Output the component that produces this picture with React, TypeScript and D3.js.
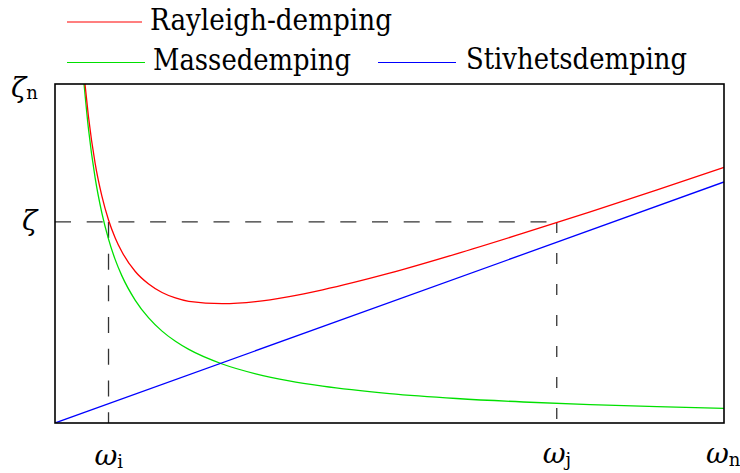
import React from "react";
import * as d3 from "d3";

// ω axis runs 0..10, ζ axis runs 0..1
const massOmega = [0.434, 0.5, 0.6, 0.7, 0.8, 0.9, 1.0, 1.2, 1.4, 1.6, 1.8, 2.0, 2.5, 3.0, 3.5, 4, 5, 6, 7, 8, 9, 10];
const massZeta = [1.0, 0.868, 0.723, 0.62, 0.5425, 0.482, 0.434, 0.362, 0.31, 0.271, 0.241, 0.217, 0.174, 0.145, 0.124, 0.1085, 0.0868, 0.0723, 0.062, 0.0543, 0.0482, 0.0434];

const rayOmega = [0.448, 0.5, 0.6, 0.7, 0.8, 0.9, 1.0, 1.2, 1.4, 1.6, 1.8, 2.0, 2.5, 3.0, 3.5, 4, 5, 6, 7, 8, 9, 10];
const rayZeta = [1.0, 0.904, 0.766, 0.67, 0.599, 0.546, 0.505, 0.447, 0.41, 0.385, 0.369, 0.359, 0.352, 0.358, 0.373, 0.393, 0.442, 0.499, 0.56, 0.623, 0.688, 0.754];

const stiffOmega = [0, 10];
const stiffZeta = [0, 0.711];

const zetaTarget = 0.593;
const omegaI = 0.8;
const omegaJ = 7.5;
const omegaMax = 10;

const legendLabels = ["Rayleigh-demping", "Massedemping", "Stivhetsdemping"];

export default function App() {
  const W = 740, H = 473;
  const x = d3.scaleLinear().domain([0, 10]).range([55, 724]);
  const y = d3.scaleLinear().domain([0, 1]).range([423, 84]);

  const line = d3
    .line<[number, number]>()
    .x((d) => x(d[0]))
    .y((d) => y(d[1]))
    .curve(d3.curveMonotoneX);

  const mass = massOmega.map((w, i) => [w, massZeta[i]] as [number, number]);
  const ray = rayOmega.map((w, i) => [w, rayZeta[i]] as [number, number]);
  const stiff = stiffOmega.map((w, i) => [w, stiffZeta[i]] as [number, number]);

  const font = '"DejaVu Serif", serif';
  const dash = "16 15.7";

  return (
    <svg width={W} height={H} style={{ position: "absolute", left: 0, top: 0 }}>
      <rect x={0} y={0} width={W} height={H} fill="#fff" />
      <defs>
        <clipPath id="plot">
          <rect x={x(0)} y={y(1)} width={x(10) - x(0)} height={y(0) - y(1)} />
        </clipPath>
      </defs>

      {/* dashed guides */}
      <line x1={x(0)} x2={x(omegaJ)} y1={y(zetaTarget)} y2={y(zetaTarget)} stroke="#333" strokeWidth={1.3} strokeDasharray={dash} />
      <line x1={x(omegaI)} x2={x(omegaI)} y1={y(zetaTarget)} y2={y(0)} stroke="#333" strokeWidth={1.3} strokeDasharray={dash} />
      <line x1={x(omegaJ)} x2={x(omegaJ)} y1={y(zetaTarget)} y2={y(0)} stroke="#333" strokeWidth={1.3} strokeDasharray="11 20" />

      <g clipPath="url(#plot)" fill="none" strokeWidth={1.3}>
        <path d={line(mass) || ""} stroke="#00e000" />
        <path d={line(stiff) || ""} stroke="#0000ff" />
        <path d={line(ray) || ""} stroke="#ff0000" />
      </g>

      <rect x={x(0)} y={y(1)} width={x(10) - x(0)} height={y(0) - y(1)} fill="none" stroke="#000" strokeWidth={1.6} />

      <g fontFamily={font} fill="#000">
        {/* legend */}
        <line x1={67} x2={142} y1={22} y2={22} stroke="#ff0000" strokeWidth={1.2} />
        <text x={150} y={30} fontSize={29} textLength={242} lengthAdjust="spacingAndGlyphs">{legendLabels[0]}</text>
        <line x1={67} x2={145} y1={62.5} y2={62.5} stroke="#00e000" strokeWidth={1.2} />
        <text x={153} y={70} fontSize={29} textLength={198} lengthAdjust="spacingAndGlyphs">{legendLabels[1]}</text>
        <line x1={378} x2={456} y1={62.5} y2={62.5} stroke="#0000ff" strokeWidth={1.2} />
        <text x={466} y={69} fontSize={29} textLength={221} lengthAdjust="spacingAndGlyphs">{legendLabels[2]}</text>

        {/* y labels */}
        <text x={11} y={97} fontSize={28} fontStyle="italic">ζ<tspan fontSize={18} fontStyle="normal" dy={2}>n</tspan></text>
        <text x={22} y={230} fontSize={28} fontStyle="italic">ζ</text>

        {/* x labels */}
        <text x={x(omegaI) - 14} y={465} fontSize={28} fontStyle="italic">ω<tspan fontSize={18} fontStyle="normal" dy={3}>i</tspan></text>
        <text x={x(omegaJ) - 14} y={463} fontSize={28} fontStyle="italic">ω<tspan fontSize={18} fontStyle="normal" dy={3}>j</tspan></text>
        <text x={x(omegaMax) - 18} y={463} fontSize={28} fontStyle="italic">ω<tspan fontSize={18} fontStyle="normal" dy={3}>n</tspan></text>
      </g>
    </svg>
  );
}
